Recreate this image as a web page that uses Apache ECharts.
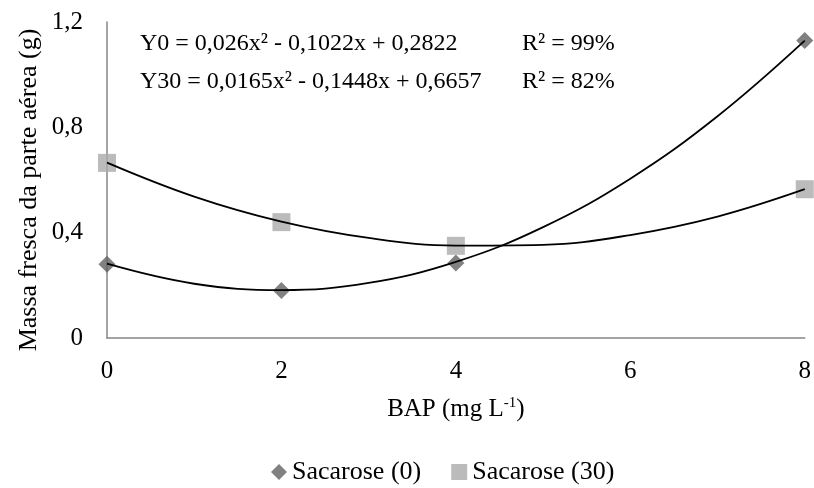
<!DOCTYPE html>
<html>
<head>
<meta charset="UTF-8">
<title>Massa fresca</title>
<script src="https://cdn.jsdelivr.net/npm/echarts@6/dist/echarts.min.js"></script>
<style>
  html, body { margin: 0; padding: 0; background: #fff; }
  #main { width: 814px; height: 488px; }
</style>
</head>
<body>
<div id="main"></div>
<script>
// pontos observados
var doses = [0, 2, 4, 8];
var sac0 = [0.28, 0.18, 0.285, 1.13];
var sac30 = [0.665, 0.44, 0.35, 0.565];

// linhas de tendencia (x = 0..8)
var trendX = [0, 1, 2, 3, 4, 5, 6, 7, 8];
var trend0 = [0.282, 0.206, 0.182, 0.209, 0.289, 0.421, 0.605, 0.842, 1.129];
var trend30 = [0.666, 0.537, 0.442, 0.380, 0.351, 0.354, 0.391, 0.461, 0.565];

var xTicks = [0, 2, 4, 6, 8];
var yTicks = ['0', '0,4', '0,8', '1,2'];

var eq0 = 'Y0 = 0,026x² - 0,1022x + 0,2822';
var eq30 = 'Y30 = 0,0165x² - 0,1448x + 0,6657';
var r0 = 'R² = 99%';
var r30 = 'R² = 82%';
var tituloY = 'Massa fresca da parte aérea (g)';

function pairs(xs, ys) {
  var out = [];
  for (var i = 0; i < xs.length; i++) out.push([xs[i], ys[i]]);
  return out;
}

var fonte = '"Liberation Serif", "Times New Roman", serif';
var myChart = echarts.init(document.getElementById('main'));

var option = {
  animation: false,
  textStyle: { fontFamily: fonte, color: '#000' },
  grid: { left: 107, right: 4, top: 22, bottom: 150, containLabel: false },
  xAxis: {
    type: 'value', min: 0, max: 8, interval: 2,
    axisLine: { lineStyle: { color: '#868686', width: 1.5 } },
    axisTick: { show: false },
    splitLine: { show: false },
    axisLabel: {
      fontFamily: fonte, fontSize: 25, color: '#000', margin: 21,
      formatter: function (v) { return xTicks.indexOf(v) >= 0 ? String(v) : ''; }
    },
    name: '{n|BAP (mg L}{s|-1}{n|)}',
    nameLocation: 'middle', nameGap: 58,
    nameTextStyle: {
      rich: {
        n: { fontFamily: fonte, fontSize: 25, color: '#000' },
        s: { fontFamily: fonte, fontSize: 15, color: '#000', verticalAlign: 'top', padding: [0, 0, 12, 0] }
      }
    }
  },
  yAxis: {
    type: 'value', min: 0, max: 1.2, interval: 0.4,
    axisLine: { show: true, lineStyle: { color: '#868686', width: 1.5 } },
    axisTick: { show: false },
    splitLine: { show: false },
    axisLabel: {
      fontFamily: fonte, fontSize: 25, color: '#000', margin: 24,
      formatter: function (v) { return yTicks[Math.round(v / 0.4)]; }
    }
  },
  legend: {
    top: 454, left: 266, itemGap: 30, itemWidth: 16, itemHeight: 16,
    data: [
      { name: 'Sacarose (0)', icon: 'diamond' },
      { name: 'Sacarose (30)', icon: 'rect' }
    ],
    textStyle: { fontFamily: fonte, fontSize: 26, color: '#000' }
  },
  graphic: [
    {
      type: 'text', x: 29, y: 190, rotation: Math.PI / 2,
      style: { text: tituloY, font: '26px ' + fonte, fill: '#000', align: 'center', verticalAlign: 'middle' }
    },
    { type: 'text', left: 140, top: 32, style: { text: eq0, font: '24px ' + fonte, fill: '#000' } },
    { type: 'text', left: 140, top: 70, style: { text: eq30, font: '24px ' + fonte, fill: '#000' } },
    { type: 'text', left: 522, top: 32, style: { text: r0, font: '24px ' + fonte, fill: '#000' } },
    { type: 'text', left: 522, top: 70, style: { text: r30, font: '24px ' + fonte, fill: '#000' } }
  ],
  series: [
    {
      name: 'trend0', type: 'line', smooth: 0.4, symbol: 'none', z: 3,
      lineStyle: { color: '#000', width: 1.8 },
      data: pairs(trendX, trend0)
    },
    {
      name: 'trend30', type: 'line', smooth: 0.4, symbol: 'none', z: 3,
      lineStyle: { color: '#000', width: 1.8 },
      data: pairs(trendX, trend30)
    },
    {
      name: 'Sacarose (0)', type: 'scatter', symbol: 'diamond', symbolSize: 17, z: 2,
      itemStyle: { color: '#616161' },
      data: pairs(doses, sac0)
    },
    {
      name: 'Sacarose (30)', type: 'scatter', symbol: 'rect', symbolSize: 18, z: 2,
      itemStyle: { color: '#aaaaaa' },
      data: pairs(doses, sac30)
    }
  ]
};
myChart.setOption(option);
</script>
</body>
</html>
